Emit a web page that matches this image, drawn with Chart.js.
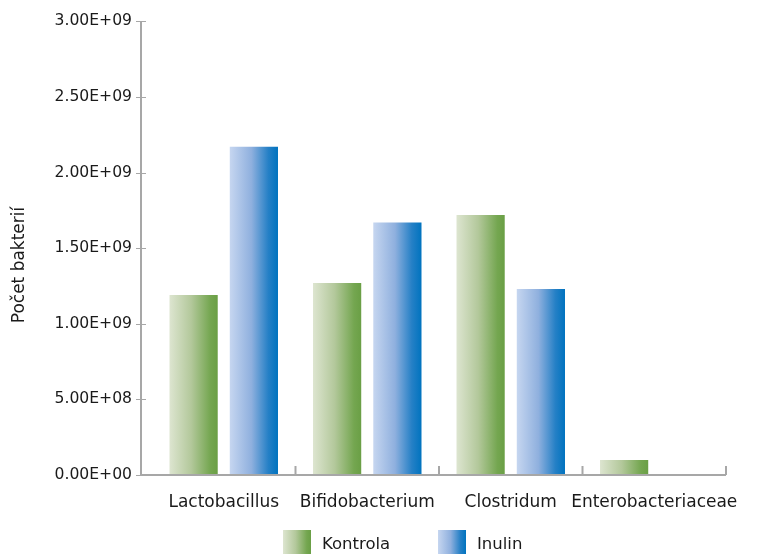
<!DOCTYPE html>
<html>
<head>
<meta charset="utf-8">
<script src="https://cdn.jsdelivr.net/npm/chart.js@4.4.1/dist/chart.umd.min.js"></script>
<style>
  html, body { margin: 0; padding: 0; background: #ffffff; }
  #wrap { width: 759px; height: 554px; position: relative; }
</style>
</head>
<body>
<div id="wrap"><canvas id="c" width="759" height="554"></canvas></div>
<script>
// Bacterial counts per genus/family, control vs. inulin diet
const categories = ['Lactobacillus', 'Bifidobacterium', 'Clostridum', 'Enterobacteriaceae'];
const kontrola = [1.19e9, 1.27e9, 1.72e9, 1.0e8];
const inulin   = [2.17e9, 1.67e9, 1.23e9, 0];
const seriesNames = ['Kontrola', 'Inulin'];
const yTicks = [0, 5e8, 1e9, 1.5e9, 2e9, 2.5e9, 3e9];
const yTitle = 'Počet bakterií';

const FONT = "'DejaVu Sans', sans-serif";
const CAT_PCT = 0.84;
const BAR_PCT = 0.8;
const AXIS_COLOR = '#a7a7a7';
const TEXT_COLOR = '#1a1a1a';

// horizontal colour ramps, light on the left to saturated on the right
const ramps = [
  [[0, '#dde5d0'], [0.45, '#b3c89b'], [0.85, '#74a650'], [1, '#6a9f45']],
  [[0, '#c6d6f0'], [0.45, '#8fb0de'], [0.8, '#2580c6'], [1, '#0073bf']]
];

function fmtSci(v) {
  const parts = Number(v).toExponential(2).split('e');
  const sign = parts[1][0];
  const exp = parts[1].slice(1).padStart(2, '0');
  return parts[0] + 'E' + sign + exp;
}

function makeRamp(ctx, ramp, x0, x1) {
  const g = ctx.createLinearGradient(x0, 0, x1, 0);
  ramp.forEach(s => g.addColorStop(s[0], s[1]));
  return g;
}

function barFill(context) {
  const chart = context.chart;
  const ds = context.datasetIndex;
  const xs = chart.scales && chart.scales.x;
  if (!chart.chartArea || !xs || context.type !== 'data') return ramps[ds][2][1];
  const center = xs.getPixelForValue(context.dataIndex);
  const catW = xs.width / categories.length;
  const slot = catW * CAT_PCT / 2;
  const barW = slot * BAR_PCT;
  const left = center - slot + ds * slot + (slot - barW) / 2;
  return makeRamp(chart.ctx, ramps[ds], left, left + barW);
}

// axis lines, tick marks, rotated axis title and the legend
const decorations = {
  id: 'decorations',
  afterDraw(chart) {
    const ctx = chart.ctx;
    const xs = chart.scales.x, ys = chart.scales.y;
    const axisX = 141;
    const yBottom = ys.getPixelForValue(0);
    const yTop = ys.getPixelForValue(yTicks[yTicks.length - 1]);
    ctx.save();
    ctx.strokeStyle = AXIS_COLOR;
    ctx.lineWidth = 2;
    ctx.beginPath();
    ctx.moveTo(axisX, yTop);
    ctx.lineTo(axisX, yBottom + 1);
    ctx.moveTo(axisX, yBottom);
    ctx.lineTo(xs.right, yBottom);
    ctx.stroke();
    ctx.lineWidth = 1;
    ctx.beginPath();
    yTicks.forEach(t => {
      const y = Math.round(ys.getPixelForValue(t)) + 0.5;
      ctx.moveTo(axisX - 5, y);
      ctx.lineTo(axisX + 5, y);
    });
    ctx.stroke();
    ctx.lineWidth = 2;
    ctx.beginPath();
    for (let i = 1; i <= categories.length; i++) {
      const x = xs.left + i * xs.width / categories.length;
      ctx.moveTo(x, yBottom);
      ctx.lineTo(x, yBottom - 9);
    }
    ctx.stroke();

    // y axis title
    ctx.fillStyle = TEXT_COLOR;
    ctx.font = '17px ' + FONT;
    ctx.textAlign = 'center';
    ctx.textBaseline = 'middle';
    ctx.save();
    ctx.translate(20, 265);
    ctx.rotate(-Math.PI / 2);
    ctx.fillText(yTitle, 0, 0);
    ctx.restore();

    // legend
    const items = [{x: 283, tx: 322}, {x: 438, tx: 477}];
    ctx.textAlign = 'left';
    ctx.font = '16.5px ' + FONT;
    items.forEach((it, i) => {
      ctx.fillStyle = makeRamp(ctx, ramps[i], it.x, it.x + 28);
      ctx.fillRect(it.x, 530, 28, 24);
      ctx.fillStyle = TEXT_COLOR;
      ctx.fillText(chart.data.datasets[i].label, it.tx, 545);
    });
    ctx.restore();
  }
};

new Chart(document.getElementById('c'), {
  type: 'bar',
  data: {
    labels: categories,
    datasets: [
      { label: seriesNames[0], data: kontrola, backgroundColor: barFill },
      { label: seriesNames[1], data: inulin, backgroundColor: barFill }
    ]
  },
  options: {
    responsive: false,
    animation: false,
    devicePixelRatio: 1,
    categoryPercentage: CAT_PCT,
    barPercentage: BAR_PCT,
    layout: { padding: { left: 0, top: 17, right: 33, bottom: 0 } },
    plugins: { legend: { display: false }, tooltip: { enabled: false } },
    scales: {
      x: {
        grid: { display: false },
        border: { display: false },
        ticks: { color: TEXT_COLOR, font: { family: FONT, size: 17 }, padding: 9, maxRotation: 0, autoSkip: false },
        afterFit(scale) { scale.height = 79; }
      },
      y: {
        min: 0,
        max: 3e9,
        grid: { display: false },
        border: { display: false },
        afterBuildTicks(scale) { scale.ticks = yTicks.map(v => ({ value: v })); },
        ticks: { color: TEXT_COLOR, font: { family: FONT, size: 15.6 }, padding: 12, callback: v => fmtSci(v) },
        afterFit(scale) { scale.width = 152; }
      }
    }
  },
  plugins: [decorations]
});
</script>
</body>
</html>
